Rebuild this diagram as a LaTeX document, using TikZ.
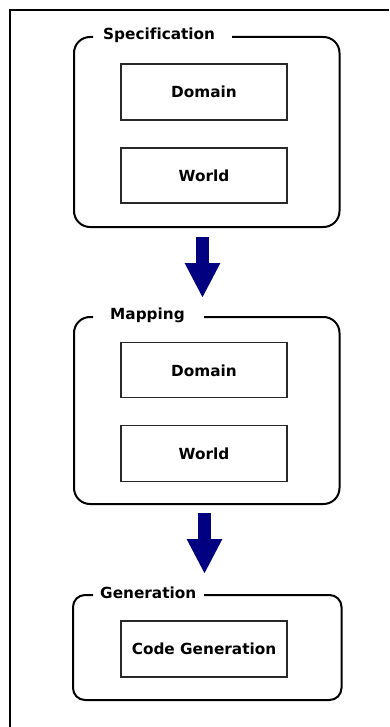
\documentclass[tikz,border=0pt]{standalone}
\usepackage{fontspec}
\setmainfont{DejaVu Sans}[Ligatures=CommonOff]
\usetikzlibrary{arrows.meta}
\definecolor{flownavy}{RGB}{0,0,128}
\definecolor{boxline}{RGB}{40,40,40}
\tikzset{
  frameline/.style={line width=1.5pt, black},
  groupframe/.style={line width=2pt, black, rounded corners=#1},
  grouptitle/.style={anchor=base west, inner sep=0pt, font=\fontsize{15.3pt}{18pt}\selectfont\bfseries},
  itembox/.style={draw=boxline, line width=1.2pt, minimum width=166pt, minimum height=56pt, inner sep=0pt,
                  font=\fontsize{15.3pt}{18pt}\selectfont\bfseries},
  flowarrow/.style={line width=13pt, flownavy, -{Triangle[width=33pt,length=35pt]}},
}
\begin{document}
\begin{tikzpicture}[x=1pt, y=-1pt]
\useasboundingbox (0,0) rectangle (389,727);

% outer frame, open towards the right and the bottom
\draw[frameline] (389,10) -- (10,10) -- (10,727);

% --- Specification group ---
\draw[groupframe=16] (232,37) -- (339.5,37) -- (339.5,227) -- (74,227) -- (74,37) -- (93,37);
\node[grouptitle] (specTitle) at (103,40) {Specification};
\node[itembox] (specDomain) at (204,92) {Domain};
\node[itembox, minimum height=55pt] (specWorld) at (204,175.5) {World};

% --- Mapping group ---
\draw[groupframe=16] (204,317) -- (339.5,317) -- (339.5,504) -- (74,504) -- (74,317) -- (93,317);
\node[grouptitle] (mapTitle) at (110,319) {Mapping};
\node[itembox, minimum height=55pt] (mapDomain) at (204,370.3) {Domain};
\node[itembox] (mapWorld) at (204,453.8) {World};

% --- Generation group ---
\draw[groupframe=12] (204,595) -- (341.5,595) -- (341.5,700) -- (73,700) -- (73,595) -- (93,595);
\node[grouptitle] (genTitle) at (100,598) {Generation};
\node[itembox] (genCode) at (204,649) {Code Generation};

% flow arrows between the groups
\coordinate (specOut) at (202.5,237);
\coordinate (mapIn) at (202.5,298);
\coordinate (mapOut) at (204.5,513);
\coordinate (genIn) at (204.5,574);
\draw[flowarrow] (specOut) -- (mapIn);
\draw[flowarrow] (mapOut) -- (genIn);
\end{tikzpicture}
\end{document}
